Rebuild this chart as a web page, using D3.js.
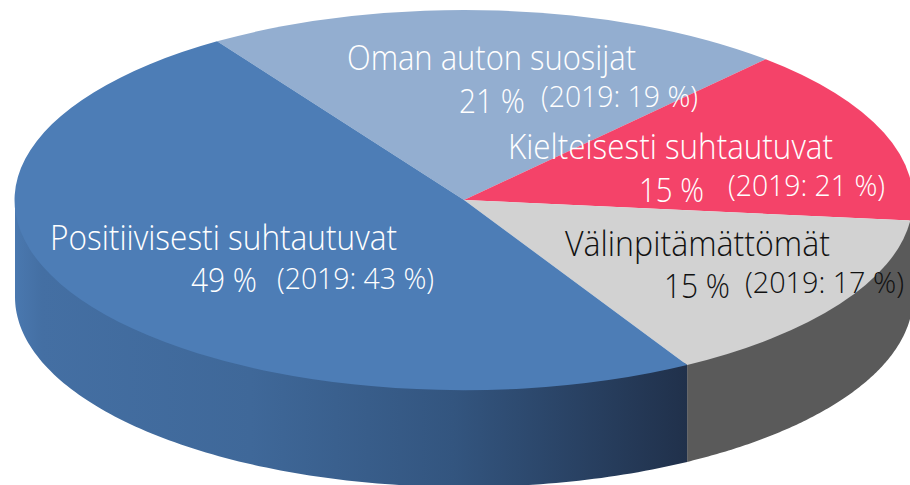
<!DOCTYPE html>
<html><head><meta charset="utf-8">
<script src="https://cdn.jsdelivr.net/npm/d3@7/dist/d3.min.js"></script>
<style>html,body{margin:0;padding:0;background:#fff}svg{display:block}</style>
</head><body><svg id="c" width="910" height="485"></svg>
<script>
const categories = ["Oman auton suosijat","Kielteisesti suhtautuvat","Välinpitämättömät","Positiivisesti suhtautuvat"];
const shares = [21,15,15,49];
const shareLabels = ["21 %","15 %","15 %","49 %"];
const previous = ["(2019: 19 %)","(2019: 21 %)","(2019: 17 %)","(2019: 43 %)"];
const topColors = ["#93aed0","#f44369","#d2d2d2","#4d7db6"];
const textColors = ["#fff","#fff","#111","#fff"];
// layout: [name x, name baseline, name width, share x, share base, share w, prev x, prev base, prev w]
const layout = [
 [347,70,289, 459,113,66, 541,107,157],
 [508,159,325, 639,202,65, 728,196,157],
 [565,256,265, 664,298,66, 745,293,159],
 [50,250,347, 191,292,66, 277,289,157]
];
const cx=464,cy=200,rx=449,ry=190,depth=97;
const startDeg=-33.4;
const svg=d3.select("#c");
const sx=d3.scaleLinear([-1,1],[cx-rx,cx+rx]);
const sy=d3.scaleLinear([-1,1],[cy-ry,cy+ry]);
const pie=d3.pie().sort(null).startAngle(startDeg*Math.PI/180).endAngle((startDeg+360)*Math.PI/180);
const arcs=pie(shares);
const defs=svg.append("defs");
const grad=defs.append("linearGradient").attr("id","blueSide").attr("gradientUnits","userSpaceOnUse")
  .attr("x1",15).attr("x2",690).attr("y1",0).attr("y2",0);
[[0,"#4a78af"],[0.04,"#446fa3"],[0.35,"#3f6899"],[0.65,"#33557f"],[1,"#20304a"]]
  .forEach(s=>grad.append("stop").attr("offset",s[0]).attr("stop-color",s[1]));
const sideFill=i=>i===3?"url(#blueSide)":"#5a5a5a";
// side walls (front half only); the upper edge runs under the top face so no seam shows
const area=d3.area().x(a=>sx(Math.sin(a))).y0(a=>sy(-Math.cos(a))-3).y1(a=>sy(-Math.cos(a))+depth);
arcs.forEach((d,i)=>{
  const lo=Math.PI/2,hi=3*Math.PI/2;
  const aa=Math.max(d.startAngle,lo),bb=Math.min(d.endAngle,hi);
  if(bb<=aa) return;
  const n=120, pts=d3.range(n+1).map(k=>aa+(bb-aa)*k/n);
  svg.append("path").attr("d",area(pts)).attr("fill",sideFill(i));
});
// top face
const arc=d3.arc().innerRadius(0).outerRadius(1);
const topFace=svg.append("g").attr("transform",`translate(${cx},${cy}) scale(${rx},${ry})`);
topFace.selectAll("path").data(arcs).join("path").attr("d",arc).attr("fill",(d,i)=>topColors[i]);
// labels
const font="'Open Sans','Noto Sans',sans-serif";
function t(s,x,y,w,size,col){
  svg.append("text").text(s).attr("x",x).attr("y",y).attr("font-family",font).attr("font-weight",300)
   .attr("font-size",size).attr("fill",col).attr("textLength",w).attr("lengthAdjust","spacingAndGlyphs");
}
categories.forEach((c,i)=>{
  const L=layout[i];
  t(c,L[0],L[1],L[2],34,textColors[i]);
  t(shareLabels[i],L[3],L[4],L[5],33,textColors[i]);
  t(previous[i],L[6],L[7],L[8],29,textColors[i]);
});
</script></body></html>
